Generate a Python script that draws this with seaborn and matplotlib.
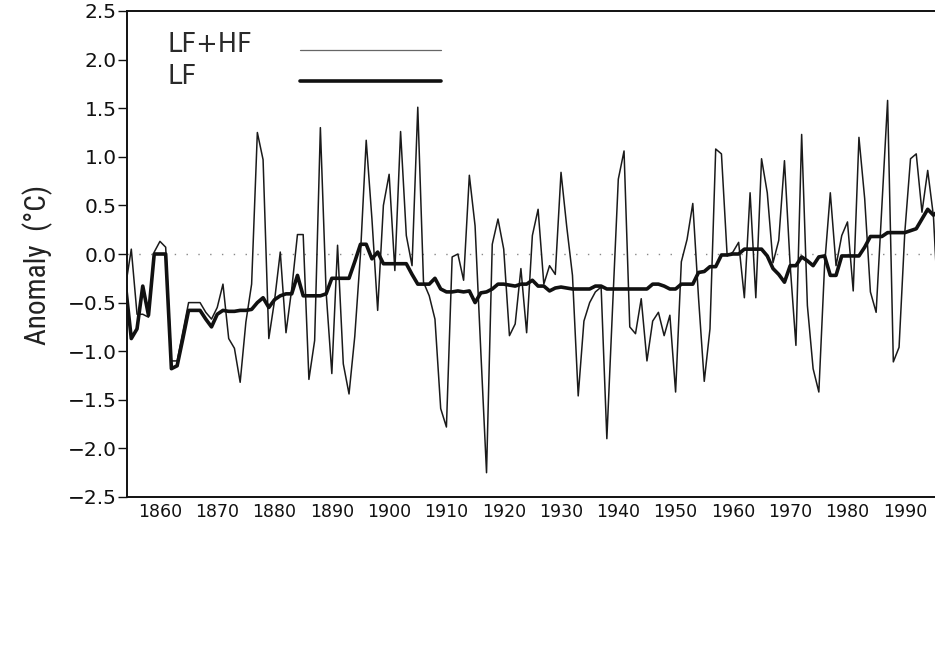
import numpy as np
import pandas as pd
import matplotlib
matplotlib.use("Agg")
import matplotlib.pyplot as plt
from matplotlib import font_manager as fm
import seaborn as sns

# Annual temperature anomaly series (degC), 1854-1996
years = list(range(1854, 1997))

lf_hf = [
    -0.33, 0.05, -0.62, -0.62, -0.65, 0.02, 0.13, 0.07, -1.10, -1.10,   # 1854-1863
    -0.80, -0.50, -0.50, -0.50, -0.60, -0.67, -0.55, -0.31, -0.87, -0.97,  # 1864-1873
    -1.32, -0.70, -0.31, 1.25, 0.97, -0.87, -0.48, 0.02, -0.81, -0.36,   # 1874-1883
    0.20, 0.20, -1.29, -0.89, 1.30, -0.39, -1.23, 0.09, -1.13, -1.44,    # 1884-1893
    -0.85, 0.00, 1.17, 0.36, -0.58, 0.50, 0.82, -0.17, 1.26, 0.19,      # 1894-1903
    -0.12, 1.51, -0.29, -0.43, -0.67, -1.59, -1.78, -0.03, 0.00, -0.27,  # 1904-1913
    0.81, 0.29, -1.00, -2.25, 0.10, 0.36, 0.05, -0.84, -0.72, -0.15,    # 1914-1923
    -0.81, 0.19, 0.46, -0.31, -0.12, -0.21, 0.84, 0.28, -0.22, -1.46,   # 1924-1933
    -0.69, -0.50, -0.39, -0.34, -1.90, -0.55, 0.77, 1.06, -0.75, -0.82,  # 1934-1943
    -0.46, -1.10, -0.69, -0.60, -0.84, -0.63, -1.42, -0.08, 0.15, 0.52,  # 1944-1953
    -0.45, -1.31, -0.77, 1.08, 1.03, -0.02, 0.02, 0.12, -0.45, 0.63,    # 1954-1963
    -0.45, 0.98, 0.63, -0.09, 0.14, 0.96, -0.12, -0.94, 1.23, -0.53,    # 1964-1973
    -1.18, -1.42, -0.12, 0.63, -0.12, 0.19, 0.33, -0.38, 1.20, 0.57,    # 1974-1983
    -0.39, -0.60, 0.50, 1.58, -1.11, -0.96, 0.22, 0.98, 1.03, 0.43,     # 1984-1993
    0.86, 0.39, -0.75,                                                  # 1994-1996
]

lf = [
    -0.33, -0.87, -0.77, -0.33, -0.63, 0.00, 0.00, 0.00, -1.18, -1.15,   # 1854-1863
    -0.87, -0.58, -0.58, -0.58, -0.67, -0.75, -0.62, -0.58, -0.59, -0.59,  # 1864-1873
    -0.58, -0.58, -0.57, -0.50, -0.45, -0.55, -0.47, -0.43, -0.41, -0.41,  # 1874-1883
    -0.22, -0.43, -0.43, -0.43, -0.43, -0.41, -0.25, -0.25, -0.25, -0.25,  # 1884-1893
    -0.08, 0.10, 0.10, -0.05, 0.02, -0.10, -0.10, -0.10, -0.10, -0.10,   # 1894-1903
    -0.21, -0.31, -0.31, -0.31, -0.25, -0.36, -0.39, -0.39, -0.38, -0.39,  # 1904-1913
    -0.38, -0.50, -0.40, -0.39, -0.36, -0.31, -0.31, -0.32, -0.33, -0.31,  # 1914-1923
    -0.31, -0.27, -0.33, -0.33, -0.38, -0.35, -0.34, -0.35, -0.36, -0.36,  # 1924-1933
    -0.36, -0.36, -0.33, -0.33, -0.36, -0.36, -0.36, -0.36, -0.36, -0.36,  # 1934-1943
    -0.36, -0.36, -0.31, -0.31, -0.33, -0.36, -0.36, -0.31, -0.31, -0.31,  # 1944-1953
    -0.19, -0.18, -0.13, -0.13, -0.01, -0.01, 0.00, 0.00, 0.05, 0.05,    # 1954-1963
    0.05, 0.05, -0.02, -0.15, -0.21, -0.29, -0.12, -0.12, -0.03, -0.07,  # 1964-1973
    -0.12, -0.03, -0.02, -0.22, -0.22, -0.02, -0.02, -0.02, -0.02, 0.07,  # 1974-1983
    0.18, 0.18, 0.18, 0.22, 0.22, 0.22, 0.22, 0.24, 0.26, 0.36,         # 1984-1993
    0.46, 0.40, 0.45,                                                   # 1994-1996
]

x_ticks = list(range(1860, 2000, 10))
y_ticks = [-2.5, -2.0, -1.5, -1.0, -0.5, 0.0, 0.5, 1.0, 1.5, 2.0, 2.5]
series_names = ["LF+HF", "LF"]
y_title = "Anomaly  (\u00b0C)"

df = pd.DataFrame({"year": years, "LF+HF": lf_hf, "LF": lf})

sns.set_theme(style="ticks")
plt.rcParams["font.family"] = ["DejaVu Sans"]
plt.rcParams["axes.edgecolor"] = "black"


def narrow_font():
    """Return FontProperties for a condensed sans if one is installed."""
    for fam in ["Liberation Sans Narrow", "Roboto Condensed",
                "DejaVu Sans Condensed", "Open Sans Condensed", "Arial Narrow"]:
        try:
            fm.findfont(fm.FontProperties(family=fam), fallback_to_default=False)
            return fm.FontProperties(family=fam)
        except ValueError:
            pass
    fp = fm.FontProperties(family="DejaVu Sans", stretch="condensed")
    if "Condensed" in fm.findfont(fp):
        return fp
    return fm.FontProperties(family="DejaVu Sans")


W, H = 935, 660
fig = plt.figure(figsize=(W / 100, H / 100), dpi=100)
ax = fig.add_axes([127 / W, 1 - 497 / H, 1 - 127 / W + 0.002, (497 - 11) / H])

# dotted zero reference
ax.axhline(0.0, color="#888888", lw=1.0, ls=(0, (1, 7.5)), zorder=1)

thin_style = dict(color="#1a1a1a", lw=1.1)
thick_style = dict(color="#111111", lw=2.6)

sns.lineplot(data=df, x="year", y="LF+HF", ax=ax, estimator=None,
             legend=False, zorder=2, **thin_style)
sns.lineplot(data=df, x="year", y="LF", ax=ax, estimator=None,
             legend=False, zorder=3, **thick_style)

ax.set_xlim(1854.25, 1995.6)
ax.set_ylim(-2.5, 2.5)
ax.set_xticks(x_ticks)
ax.set_xticklabels([str(t) for t in x_ticks])
ax.set_yticks(y_ticks)
ax.set_yticklabels([f"{t:.1f}".replace("-", "\u2212") for t in y_ticks])
ax.tick_params(axis="x", length=0, pad=4.5, labelsize=12.5, colors="#111111")
ax.tick_params(axis="y", length=6.5, width=1.0, pad=1.0, labelsize=14.5,
               colors="#111111")

for side in ["left", "bottom", "top"]:
    ax.spines[side].set_linewidth(1.4)
    ax.spines[side].set_color("#111111")
ax.spines["right"].set_visible(False)

ax.set_xlabel("")
ax.set_ylabel("")

# vertical title, sized so that it spans about 160 px
fp = narrow_font()
ylab = fig.text(38 / W, 1 - 265 / H, y_title, rotation=90, ha="center",
                va="center", fontproperties=fp, color="#222222")
ylab.set_fontsize(22)
renderer = fig.canvas.get_renderer()
for _ in range(3):
    span = ylab.get_window_extent(renderer).height
    ylab.set_fontsize(min(23.0, ylab.get_fontsize() * 160.0 / span))

# key: label on the left, line sample on the right
key_rows = [(45, 50, thin_style | dict(color="#666666", lw=0.9)),
            (77, 81, thick_style)]
for name, (ty, ly, style) in zip(series_names, key_rows):
    fig.text(168 / W, 1 - ty / H, name, ha="left", va="center",
             fontsize=18.5, color="#2a2a2a")
    fig.add_artist(plt.Line2D([300 / W, 441 / W], [1 - ly / H, 1 - ly / H],
                              transform=fig.transFigure, **style))

fig.savefig("out.png", dpi=100, facecolor="white")
